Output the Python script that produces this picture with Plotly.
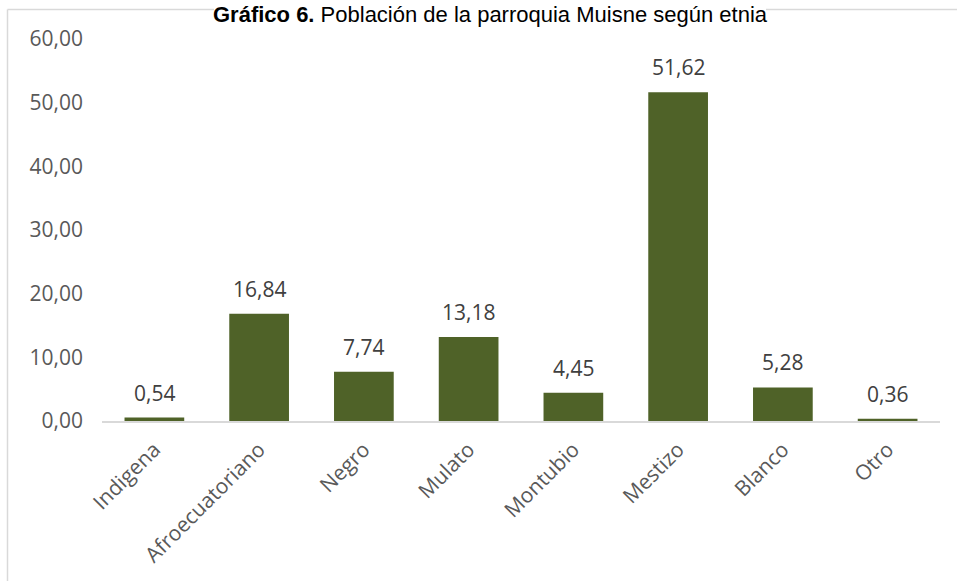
import plotly.graph_objects as go

categories = ["Indigena", "Afroecuatoriano", "Negro", "Mulato", "Montubio", "Mestizo", "Blanco", "Otro"]
values = [0.54, 16.84, 7.74, 13.18, 4.45, 51.62, 5.28, 0.36]
y_ticks = [0, 10, 20, 30, 40, 50, 60]

W, H = 957, 581
L, R, T, B = 102, 17, 39, 160
pw, ph = W - L - R, H - T - B


def px(x):
    return (x - L) / pw


def py(y):
    return 1 - (y - T) / ph


FONT = "Open Sans"

fig = go.Figure(go.Bar(
    x=categories, y=values,
    marker=dict(color="#4f6228", line=dict(width=0)),
    width=0.57, hoverinfo="x+y",
))

# data labels above bars
for c, v in zip(categories, values):
    fig.add_annotation(
        x=c, y=v, xref="x", yref="y", text=f"{v:.2f}".replace(".", ","),
        showarrow=False, yanchor="bottom", xanchor="center", yshift=9,
        font=dict(family=FONT, size=21, color="#404040"),
    )

title_l, title_r = 214, 766
line_style = dict(color="#d9d9d9", width=1.5)
shapes = [
    dict(type="line", xref="paper", yref="paper", x0=px(7.5), x1=px(7.5), y0=py(9.5), y1=py(620), line=line_style),
    dict(type="line", xref="paper", yref="paper", x0=px(7.5), x1=px(title_l), y0=py(9.5), y1=py(9.5), line=line_style),
    dict(type="line", xref="paper", yref="paper", x0=px(title_r), x1=px(990), y0=py(9.5), y1=py(9.5), line=line_style),
]

fig.update_layout(
    width=W, height=H,
    margin=dict(l=L, r=R, t=T, b=B, autoexpand=False),
    paper_bgcolor="white", plot_bgcolor="white",
    separators=",.",
    showlegend=False,
    bargap=0.43,
    xaxis=dict(
        tickangle=-45, tickfont=dict(family=FONT, size=21, color="#595959"),
        showline=True, linecolor="#d9d9d9", linewidth=2, ticks="", showgrid=False,
        automargin=False, ticklabelstandoff=6,
    ),
    yaxis=dict(
        range=[0, 60], tickvals=y_ticks, tickformat=".2f",
        tickfont=dict(family=FONT, size=21, color="#595959"),
        showgrid=False, zeroline=False, showline=False, ticks="",
        ticklabelstandoff=18, automargin=False,
    ),
    shapes=shapes,
)

fig.add_annotation(
    text="<b>Gráfico 6.</b> Población de la parroquia Muisne según etnia",
    xref="paper", yref="paper", x=px(490), y=py(0),
    xanchor="center", yanchor="top", showarrow=False,
    font=dict(family="Liberation Sans", size=22, color="#000000"),
)

fig.write_html(
    "out.html",
    config={"displayModeBar": False},
    post_script="document.body.style.margin='0px';document.body.style.overflow='hidden';",
)
